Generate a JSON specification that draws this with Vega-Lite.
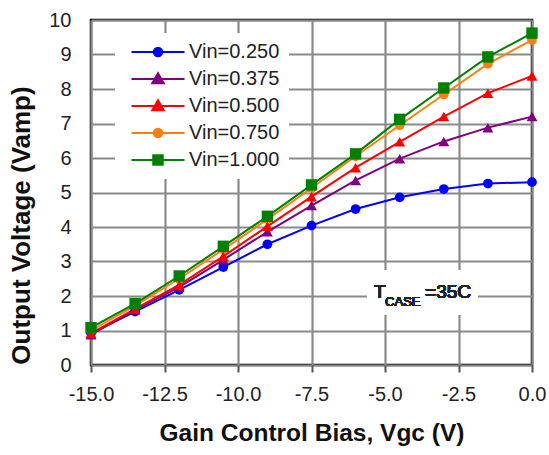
{
  "$schema": "https://vega.github.io/schema/vega-lite/v6.json",
  "width": 441,
  "height": 345,
  "autosize": {"type": "none"},
  "padding": {"left": 91, "top": 20, "right": 17, "bottom": 90},
  "background": "white",
  "config": {
    "font": "Liberation Sans",
    "view": {"stroke": "#000", "strokeWidth": 2.5},
    "axis": {
      "grid": true,
      "gridColor": "#8a8a8a",
      "gridWidth": 2.2,
      "gridOpacity": 1,
      "domain": false,
      "labelFont": "Liberation Sans",
      "labelFontSize": 20,
      "labelColor": "#222",
      "titleFont": "Liberation Sans",
      "titleFontWeight": "bold",
      "titleColor": "#111"
    }
  },
  "data": {
    "values": [
      {"series": "Vin=0.250", "vgc": -15, "vout": 0.92},
      {"series": "Vin=0.250", "vgc": -13.5, "vout": 1.55},
      {"series": "Vin=0.250", "vgc": -12, "vout": 2.18},
      {"series": "Vin=0.250", "vgc": -10.5, "vout": 2.84},
      {"series": "Vin=0.250", "vgc": -9, "vout": 3.5},
      {"series": "Vin=0.250", "vgc": -7.5, "vout": 4.04},
      {"series": "Vin=0.250", "vgc": -6, "vout": 4.52},
      {"series": "Vin=0.250", "vgc": -4.5, "vout": 4.86},
      {"series": "Vin=0.250", "vgc": -3, "vout": 5.1},
      {"series": "Vin=0.250", "vgc": -1.5, "vout": 5.26},
      {"series": "Vin=0.250", "vgc": 0, "vout": 5.3},
      {"series": "Vin=0.375", "vgc": -15, "vout": 0.88},
      {"series": "Vin=0.375", "vgc": -13.5, "vout": 1.6},
      {"series": "Vin=0.375", "vgc": -12, "vout": 2.26},
      {"series": "Vin=0.375", "vgc": -10.5, "vout": 3.05},
      {"series": "Vin=0.375", "vgc": -9, "vout": 3.86},
      {"series": "Vin=0.375", "vgc": -7.5, "vout": 4.62},
      {"series": "Vin=0.375", "vgc": -6, "vout": 5.35},
      {"series": "Vin=0.375", "vgc": -4.5, "vout": 5.98},
      {"series": "Vin=0.375", "vgc": -3, "vout": 6.48},
      {"series": "Vin=0.375", "vgc": -1.5, "vout": 6.88},
      {"series": "Vin=0.375", "vgc": 0, "vout": 7.2},
      {"series": "Vin=0.500", "vgc": -15, "vout": 0.92},
      {"series": "Vin=0.500", "vgc": -13.5, "vout": 1.63},
      {"series": "Vin=0.500", "vgc": -12, "vout": 2.32},
      {"series": "Vin=0.500", "vgc": -10.5, "vout": 3.15},
      {"series": "Vin=0.500", "vgc": -9, "vout": 4.02},
      {"series": "Vin=0.500", "vgc": -7.5, "vout": 4.88},
      {"series": "Vin=0.500", "vgc": -6, "vout": 5.72},
      {"series": "Vin=0.500", "vgc": -4.5, "vout": 6.47},
      {"series": "Vin=0.500", "vgc": -3, "vout": 7.2},
      {"series": "Vin=0.500", "vgc": -1.5, "vout": 7.88},
      {"series": "Vin=0.500", "vgc": 0, "vout": 8.38},
      {"series": "Vin=0.750", "vgc": -15, "vout": 1.0},
      {"series": "Vin=0.750", "vgc": -13.5, "vout": 1.72},
      {"series": "Vin=0.750", "vgc": -12, "vout": 2.5},
      {"series": "Vin=0.750", "vgc": -10.5, "vout": 3.35},
      {"series": "Vin=0.750", "vgc": -9, "vout": 4.22},
      {"series": "Vin=0.750", "vgc": -7.5, "vout": 5.13},
      {"series": "Vin=0.750", "vgc": -6, "vout": 6.05},
      {"series": "Vin=0.750", "vgc": -4.5, "vout": 6.95},
      {"series": "Vin=0.750", "vgc": -3, "vout": 7.84},
      {"series": "Vin=0.750", "vgc": -1.5, "vout": 8.73},
      {"series": "Vin=0.750", "vgc": 0, "vout": 9.42},
      {"series": "Vin=1.000", "vgc": -15, "vout": 1.08},
      {"series": "Vin=1.000", "vgc": -13.5, "vout": 1.78},
      {"series": "Vin=1.000", "vgc": -12, "vout": 2.58},
      {"series": "Vin=1.000", "vgc": -10.5, "vout": 3.44},
      {"series": "Vin=1.000", "vgc": -9, "vout": 4.31},
      {"series": "Vin=1.000", "vgc": -7.5, "vout": 5.22},
      {"series": "Vin=1.000", "vgc": -6, "vout": 6.12},
      {"series": "Vin=1.000", "vgc": -4.5, "vout": 7.12},
      {"series": "Vin=1.000", "vgc": -3, "vout": 8.03},
      {"series": "Vin=1.000", "vgc": -1.5, "vout": 8.93},
      {"series": "Vin=1.000", "vgc": 0, "vout": 9.62}
    ]
  },
  "encoding": {
    "x": {"field": "vgc", "type": "quantitative", "scale": {"domain": [-15, 0], "nice": false, "zero": false},
      "axis": {"values": [-15, -12.5, -10, -7.5, -5, -2.5, 0], "labelExpr": "datum.value < 0 ? '-' + format(-datum.value, '.1f') : format(datum.value, '.1f')", "labelFlush": false, "labelOverlap": false, "title": "Gain Control Bias, Vgc (V)", "titleFontSize": 24.5, "tickSize": 7, "tickWidth": 2, "tickColor": "#555", "labelPadding": 12, "titlePadding": 17, "grid": true}},
    "y": {"field": "vout", "type": "quantitative", "scale": {"domain": [0, 10], "nice": false, "zero": false},
      "axis": {"values": [0, 1, 2, 3, 4, 5, 6, 7, 8, 9, 10], "labelFlush": false, "labelOverlap": false, "title": "Output Voltage (Vamp)", "titleFontSize": 26, "ticks": false, "tickSize": 0, "labelPadding": 20, "titlePadding": 14, "titleY": 205, "grid": true}}
  },
  "layer": [
    {
      "mark": {"type": "line", "strokeWidth": 2},
      "encoding": {
        "color": {
          "field": "series", "type": "nominal", "legend": null,
          "scale": {"range": ["#0000ff", "#800080", "#ff0000", "#ff7f0e", "#008000"]}
        }
      }
    },
    {
      "transform": [{"filter": {"field": "series", "oneOf": ["Vin=0.250", "Vin=0.750"]}}],
      "mark": {"type": "point", "filled": true, "opacity": 1, "shape": "circle", "size": 95},
      "encoding": {"color": {"field": "series", "type": "nominal", "legend": null}}
    },
    {
      "transform": [{"filter": {"field": "series", "oneOf": ["Vin=0.375", "Vin=0.500"]}}],
      "mark": {"type": "point", "filled": true, "opacity": 1, "shape": "triangle-up", "size": 120},
      "encoding": {"color": {"field": "series", "type": "nominal", "legend": null}}
    },
    {
      "transform": [{"filter": {"field": "series", "equal": "Vin=1.000"}}],
      "mark": {"type": "point", "filled": true, "opacity": 1, "shape": "square", "size": 130},
      "encoding": {"color": {"field": "series", "type": "nominal", "legend": null}}
    },
    {
      "mark": {"type": "point", "filled": true, "opacity": 0.001, "size": 1, "strokeWidth": 2},
      "encoding": {
        "fill": {"field": "series", "type": "nominal",
          "scale": {"domain": ["Vin=0.250", "Vin=0.375", "Vin=0.500", "Vin=0.750", "Vin=1.000"], "range": ["#0000ff", "#800080", "#ff0000", "#ff7f0e", "#008000"]},
          "legend": {"title": null, "orient": "none", "legendX": 24, "legendY": 13, "fillColor": "white", "padding": 9, "rowPadding": 7, "symbolSize": 100, "symbolStrokeWidth": 2, "symbolOffset": 24, "labelOffset": 21, "symbolOpacity": 1, "labelFontSize": 20, "labelColor": "#222", "labelFont": "Liberation Sans", "labelLimit": 200}},
        "stroke": {"field": "series", "type": "nominal",
          "scale": {"domain": ["Vin=0.250", "Vin=0.375", "Vin=0.500", "Vin=0.750", "Vin=1.000"], "range": ["#0000ff", "#800080", "#ff0000", "#ff7f0e", "#008000"]},
          "legend": {"title": null, "orient": "none", "legendX": 24, "legendY": 13, "fillColor": "white", "padding": 9, "rowPadding": 7, "symbolSize": 100, "symbolStrokeWidth": 2, "symbolOffset": 24, "labelOffset": 21, "symbolOpacity": 1, "labelFontSize": 20, "labelColor": "#222", "labelFont": "Liberation Sans", "labelLimit": 200}},
        "shape": {"field": "series", "type": "nominal",
          "scale": {"domain": ["Vin=0.250", "Vin=0.375", "Vin=0.500", "Vin=0.750", "Vin=1.000"],
            "range": [
              "M-5.3,0H5.3M0.85,0A0.85,0.85 0 1,1 -0.85,0A0.85,0.85 0 1,1 0.85,0Z",
              "M-5.3,0H5.3M0,-1.15L1.15,0.85L-1.15,0.85Z",
              "M-5.3,0H5.3M0,-1.15L1.15,0.85L-1.15,0.85Z",
              "M-5.3,0H5.3M0.85,0A0.85,0.85 0 1,1 -0.85,0A0.85,0.85 0 1,1 0.85,0Z",
              "M-5.3,0H5.3M-0.95,-0.95H0.95V0.95H-0.95Z"
            ]},
          "legend": {"title": null, "orient": "none", "legendX": 24, "legendY": 13, "fillColor": "white", "padding": 9, "rowPadding": 7, "symbolSize": 100, "symbolStrokeWidth": 2, "symbolOffset": 24, "labelOffset": 21, "symbolOpacity": 1, "labelFontSize": 20, "labelColor": "#222", "labelFont": "Liberation Sans", "labelLimit": 200}}
      }
    },
    {
      "mark": {"type": "rect", "fill": "white"},
      "encoding": {
        "x": {"datum": -5.61, "type": "quantitative"},
        "x2": {"datum": -1.84},
        "y": {"datum": 2.75, "type": "quantitative"},
        "y2": {"datum": 1.45}
      }
    },
    {
      "mark": {"type": "text", "text": "T", "align": "left", "baseline": "alphabetic", "fontSize": 19, "color": "#222"},
      "encoding": {"x": {"datum": -5.37, "type": "quantitative"}, "y": {"datum": 1.94, "type": "quantitative"}}
    },
    {
      "mark": {"type": "text", "text": "CASE", "align": "left", "baseline": "alphabetic", "fontSize": 13, "color": "#222", "dx": 11, "dy": 8},
      "encoding": {"x": {"datum": -5.37, "type": "quantitative"}, "y": {"datum": 1.94, "type": "quantitative"}}
    },
    {
      "mark": {"type": "text", "text": "=35C", "align": "left", "baseline": "alphabetic", "fontSize": 19, "color": "#222", "dx": 51},
      "encoding": {"x": {"datum": -5.37, "type": "quantitative"}, "y": {"datum": 1.94, "type": "quantitative"}}
    }
  ]
}
